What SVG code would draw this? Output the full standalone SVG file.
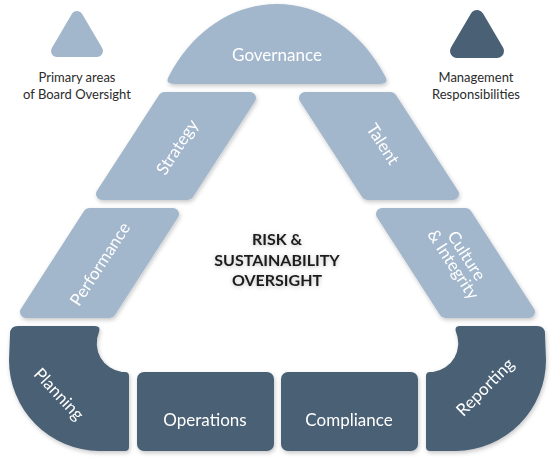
<svg xmlns="http://www.w3.org/2000/svg" width="554" height="465" viewBox="0 0 554 465">
  <defs>
    <filter id="sh" x="-20%" y="-20%" width="140%" height="140%">
      <feDropShadow dx="1" dy="2" stdDeviation="2" flood-color="#000" flood-opacity="0.22"/>
    </filter>
    <filter id="tsh" x="-20%" y="-40%" width="140%" height="180%">
      <feDropShadow dx="0" dy="1" stdDeviation="2" flood-color="#000" flood-opacity="0.25"/>
    </filter>
  </defs>
  <style>
    .light { fill: #a2b6cc; }
    .lightr { fill: #a2b6cc; stroke: #a2b6cc; stroke-width: 12; stroke-linejoin: round; }
    .dark { fill: #4a6075; }
    .darkr { fill: #4a6075; stroke: #4a6075; stroke-width: 14; stroke-linejoin: round; }
    .lbl { font-family: Lato, "Liberation Sans", sans-serif; font-size: 17px; fill: #ffffff; text-anchor: middle; }
    .leg { font-family: Lato, "Liberation Sans", sans-serif; font-size: 13px; fill: #2b2b2b; text-anchor: middle; }
    .ctr { font-family: Lato, "Liberation Sans", sans-serif; font-size: 16px; font-weight: bold; fill: #1e1e1e; text-anchor: middle; }
  </style>
  <rect width="554" height="465" fill="#ffffff"/>

  <g id="legend-board">
    <polygon class="lightr" points="77,17 57,51 97,51"/>
    <text class="leg" x="77" y="82">Primary areas</text>
    <text class="leg" x="77" y="99">of Board Oversight</text>
  </g>
  <g id="legend-management">
    <polygon class="darkr" points="477,17 457,51 497,51"/>
    <text class="leg" x="476" y="82">Management</text>
    <text class="leg" x="476" y="99">Responsibilities</text>
  </g>

  <g id="governance" filter="url(#sh)">
    <path class="light" d="M175 84 L379 84 Q390 84 385 76 C361 30 320 4 277 4 C234 4 193 30 169 76 Q164 84 175 84 Z"/>
    <text class="lbl" x="277" y="61">Governance</text>
  </g>

  <g id="strategy" filter="url(#sh)">
    <polygon class="lightr" points="164.2,98 250,98 187.8,194 102,194"/>
    <text class="lbl" transform="translate(177,147) rotate(-57)" x="0" y="6">Strategy</text>
  </g>

  <g id="talent" filter="url(#sh)">
    <polygon class="lightr" points="390.8,98 305,98 367.2,194 453,194"/>
    <text class="lbl" transform="translate(383,144) rotate(57)" x="0" y="6">Talent</text>
  </g>

  <g id="performance" filter="url(#sh)">
    <polygon class="lightr" points="89.2,214 173,214 109.8,312 26,312"/>
    <text class="lbl" transform="translate(100,264) rotate(-57)" x="0" y="6">Performance</text>
  </g>

  <g id="culture-integrity" filter="url(#sh)">
    <polygon class="lightr" points="465.8,214 382,214 445.2,312 529,312"/>
    <g transform="translate(460,260) rotate(57)">
      <text class="lbl" x="0" y="-2">Culture</text>
      <text class="lbl" x="0" y="14">&amp; Integrity</text>
    </g>
  </g>

  <g id="risk-center" filter="url(#tsh)">
    <text class="ctr" x="277" y="245">RISK &amp;</text>
    <text class="ctr" x="277" y="266">SUSTAINABILITY</text>
    <text class="ctr" x="277" y="286">OVERSIGHT</text>
  </g>

  <g id="planning" filter="url(#sh)">
    <path class="dark" d="M18 326 L95 326 Q101 326 99 332 A29 29 0 0 0 122 372 L125 372 Q129 372 129 376 L129 447 Q129 451 125 451 L99 451 A91 91 0 0 1 9 360 L10 334 Q10 326 18 326 Z"/>
    <text class="lbl" transform="translate(59,394) rotate(47)" x="0" y="6">Planning</text>
  </g>

  <g id="operations" filter="url(#sh)">
    <rect class="dark" x="137" y="372" width="137" height="79" rx="7"/>
    <text class="lbl" x="205" y="426">Operations</text>
  </g>

  <g id="compliance" filter="url(#sh)">
    <rect class="dark" x="281" y="372" width="137" height="79" rx="7"/>
    <text class="lbl" x="349" y="426">Compliance</text>
  </g>

  <g id="reporting" filter="url(#sh)">
    <path class="dark" transform="translate(555,0) scale(-1,1)" d="M18 326 L95 326 Q101 326 99 332 A29 29 0 0 0 122 372 L125 372 Q129 372 129 376 L129 447 Q129 451 125 451 L99 451 A91 91 0 0 1 9 360 L10 334 Q10 326 18 326 Z"/>
    <text class="lbl" transform="translate(485,387) rotate(-45)" x="0" y="6">Reporting</text>
  </g>

  <g id="connectors"/>
</svg>
